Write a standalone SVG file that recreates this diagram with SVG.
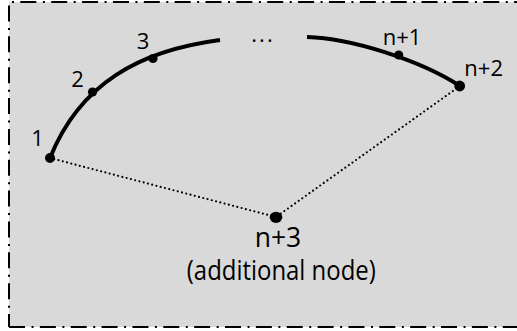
<svg xmlns="http://www.w3.org/2000/svg" width="517" height="331" viewBox="0 0 517 331">
<style>
.frame{stroke:#000;stroke-width:2;fill:none;stroke-dasharray:16 6.5 2 6.36}
.arc{stroke:#000;stroke-width:4;fill:none}
.dot{stroke:#000;stroke-width:2.2;fill:none;stroke-linecap:round;stroke-dasharray:0 4.4}
.lbl{font-family:"Open Sans","Noto Sans",sans-serif;font-size:22px;fill:#000;text-anchor:middle}
.big{font-size:26.5px}
</style>
<rect x="9" y="2" width="520" height="325" fill="#d9d9d9"/>
<g id="frame">
<line class="frame" x1="9" y1="2" x2="517" y2="2" stroke-dashoffset="19.5"/>
<line class="frame" x1="9" y1="2" x2="9" y2="327" stroke-dashoffset="27.4"/>
<line class="frame" x1="9" y1="327" x2="517" y2="327" stroke-dashoffset="0"/>
</g>
<g id="connectors">
<path class="arc" d="M50,158 C80,83 140,50.5 220,40"/>
<path class="arc" d="M307,37 C350,38 420,60 460,86"/>
<line class="dot" x1="50" y1="158" x2="276" y2="217"/>
<line class="dot" x1="460" y1="86" x2="276" y2="217"/>
<text class="lbl" x="263" y="41.5" font-size="24" letter-spacing="2">...</text>
</g>
<g id="node1"><circle cx="50" cy="158" r="5"/><text class="lbl" x="37.5" y="146">1</text></g>
<g id="node2"><circle cx="92.5" cy="92" r="4.6"/><text class="lbl" x="77.5" y="87.3">2</text></g>
<g id="node3"><circle cx="153" cy="58.5" r="4.6"/><text class="lbl" x="143" y="49.3">3</text></g>
<g id="nodeN1"><circle cx="398.7" cy="55" r="4.6"/><text class="lbl" x="402" y="45">n+1</text></g>
<g id="nodeN2"><circle cx="459.7" cy="86" r="5.4"/><text class="lbl" x="483.7" y="76">n+2</text></g>
<g id="nodeN3"><ellipse cx="276" cy="217.3" rx="6.3" ry="5.6"/><text class="lbl big" x="278" y="247.3">n+3</text><text class="lbl big" x="281.3" y="280" textLength="189" lengthAdjust="spacingAndGlyphs">(additional node)</text></g>
</svg>
